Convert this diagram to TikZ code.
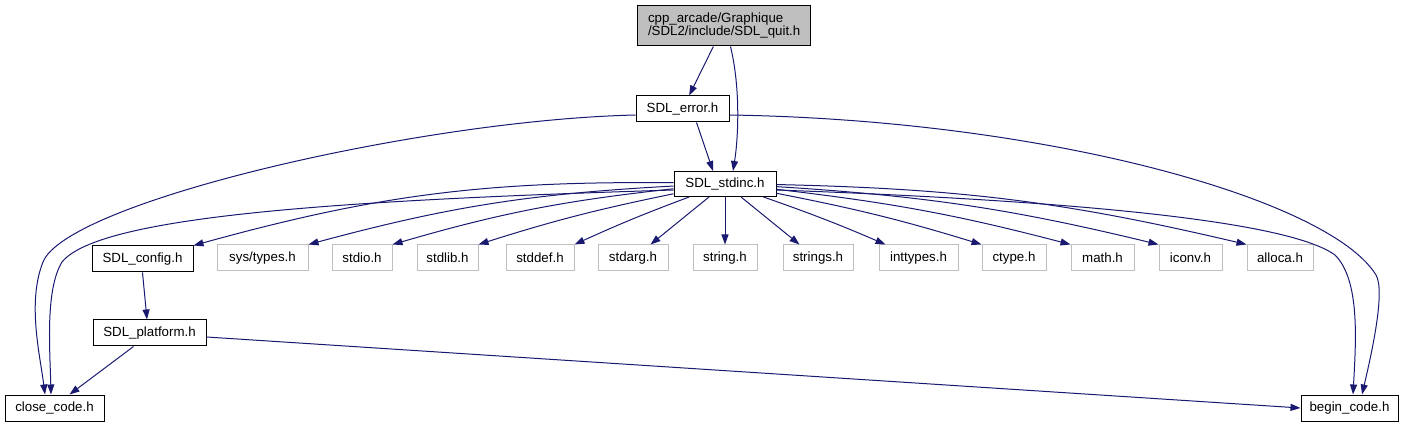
\documentclass[tikz,border=0pt]{standalone}
\usepackage{fontspec}
\setmainfont{Liberation Sans}
\usetikzlibrary{arrows.meta}
\definecolor{edgeblue}{HTML}{191970}
\definecolor{lgray}{HTML}{BFBFBF}
\begin{document}
\begin{tikzpicture}[x=1pt,y=-1pt,
  box/.style={draw=black,line width=1pt,inner sep=0pt,minimum height=26pt,font=\fontsize{13.3}{15}\selectfont},
  gbox/.style={box,draw=lgray},
  edge/.style={draw=edgeblue,line width=1pt,-{Triangle[length=10pt,width=7pt]}}]
\useasboundingbox (0,0) rectangle (1405,427);
\node[box,fill=lgray,minimum width=173pt,minimum height=40pt,text width=151pt,align=left,inner xsep=11pt] (quit) at (723.5,26) {cpp\_arcade/Graphique\\[-2pt]/SDL2/include/SDL\_quit.h};
\node[box,minimum width=93pt] (error) at (682.5,109) {SDL\_error.h};
\node[box,minimum width=102pt,minimum height=25pt] (stdinc) at (725,184) {SDL\_stdinc.h};
\node[box,minimum width=101pt] (config) at (142.5,259) {SDL\_config.h};
\node[gbox,minimum width=91pt] (systypes) at (262.5,258) {sys/types.h};
\node[gbox,minimum width=60pt] (stdio) at (362,258) {stdio.h};
\node[gbox,minimum width=61pt] (stdlib) at (447.5,258) {stdlib.h};
\node[gbox,minimum width=68pt] (stddef) at (540,258) {stddef.h};
\node[gbox,minimum width=70pt] (stdarg) at (633,258) {stdarg.h};
\node[gbox,minimum width=64pt] (string) at (725,258) {string.h};
\node[gbox,minimum width=70pt] (strings) at (818,258) {strings.h};
\node[gbox,minimum width=79pt] (inttypes) at (918.5,258) {inttypes.h};
\node[gbox,minimum width=64pt] (ctype) at (1014,258) {ctype.h};
\node[gbox,minimum width=63pt] (math) at (1102.5,258) {math.h};
\node[gbox,minimum width=63pt] (iconv) at (1190.5,258) {iconv.h};
\node[gbox,minimum width=66pt] (alloca) at (1280,258) {alloca.h};
\node[box,minimum width=113pt] (platform) at (149.5,333) {SDL\_platform.h};
\node[box,minimum width=99pt] (close) at (54.5,408) {close\_code.h};
\node[box,minimum width=97pt] (begin) at (1349.5,408) {begin\_code.h};
% edges
\draw[edge] (quit) -- (error);
\draw[edge] ([xshift=7pt]quit.south) .. controls (741,90) and (738,140) .. ([xshift=8pt]stdinc.north);
\draw[edge] ([xshift=14pt]error.south) -- ([xshift=-12pt]stdinc.north);
\draw[edge] ([yshift=-6pt]error.west) .. controls (420,120) and (67,202) .. (43,262) .. controls (27,302) and (40,355) .. ([xshift=-9.5pt]close.north);
\draw[edge] ([yshift=-6pt]error.east) .. controls (1050,120) and (1330,200) .. (1376,275) .. controls (1386,292) and (1370,360) .. ([xshift=12.5pt]begin.north);
\draw[edge] ([yshift=-6pt]stdinc.west) .. controls (350,200) and (100,215) .. (62,262) .. controls (45,290) and (50,350) .. ([xshift=-3.5pt]close.north);
\draw[edge] ([yshift=-6pt]stdinc.east) .. controls (1000,198) and (1280,215) .. (1335,255) .. controls (1360,280) and (1356,340) .. ([xshift=3.5pt]begin.north);
\draw[edge] (stdinc) to[bend right=8] (config.north east);
\draw[edge] (stdinc) to[bend right=6] (systypes.north east);
\draw[edge] (stdinc) to[bend right=5] (stdio.north east);
\draw[edge] (stdinc) to[bend right=3] (stdlib.north east);
\draw[edge] (stdinc) to[bend right=2] (stddef.north east);
\draw[edge] (stdinc) -- ([xshift=-18pt]stdarg.north east);
\draw[edge] (stdinc) -- (string.north);
\draw[edge] (stdinc) -- ([xshift=17pt]strings.north west);
\draw[edge] (stdinc) to[bend left=2] ([xshift=7pt]inttypes.north west);
\draw[edge] (stdinc) to[bend left=3] (ctype.north west);
\draw[edge] (stdinc) to[bend left=4] (math.north west);
\draw[edge] (stdinc) to[bend left=5] (iconv.north west);
\draw[edge] (stdinc) to[bend left=6] (alloca.north west);
\draw[edge] (config.south) -- ([xshift=-2.5pt]platform.north);
\draw[edge] ([xshift=-16pt]platform.south) -- ([xshift=15pt]close.north);
\draw[edge] ([yshift=-4pt]platform.east) -- (begin.west);
\end{tikzpicture}
\end{document}
